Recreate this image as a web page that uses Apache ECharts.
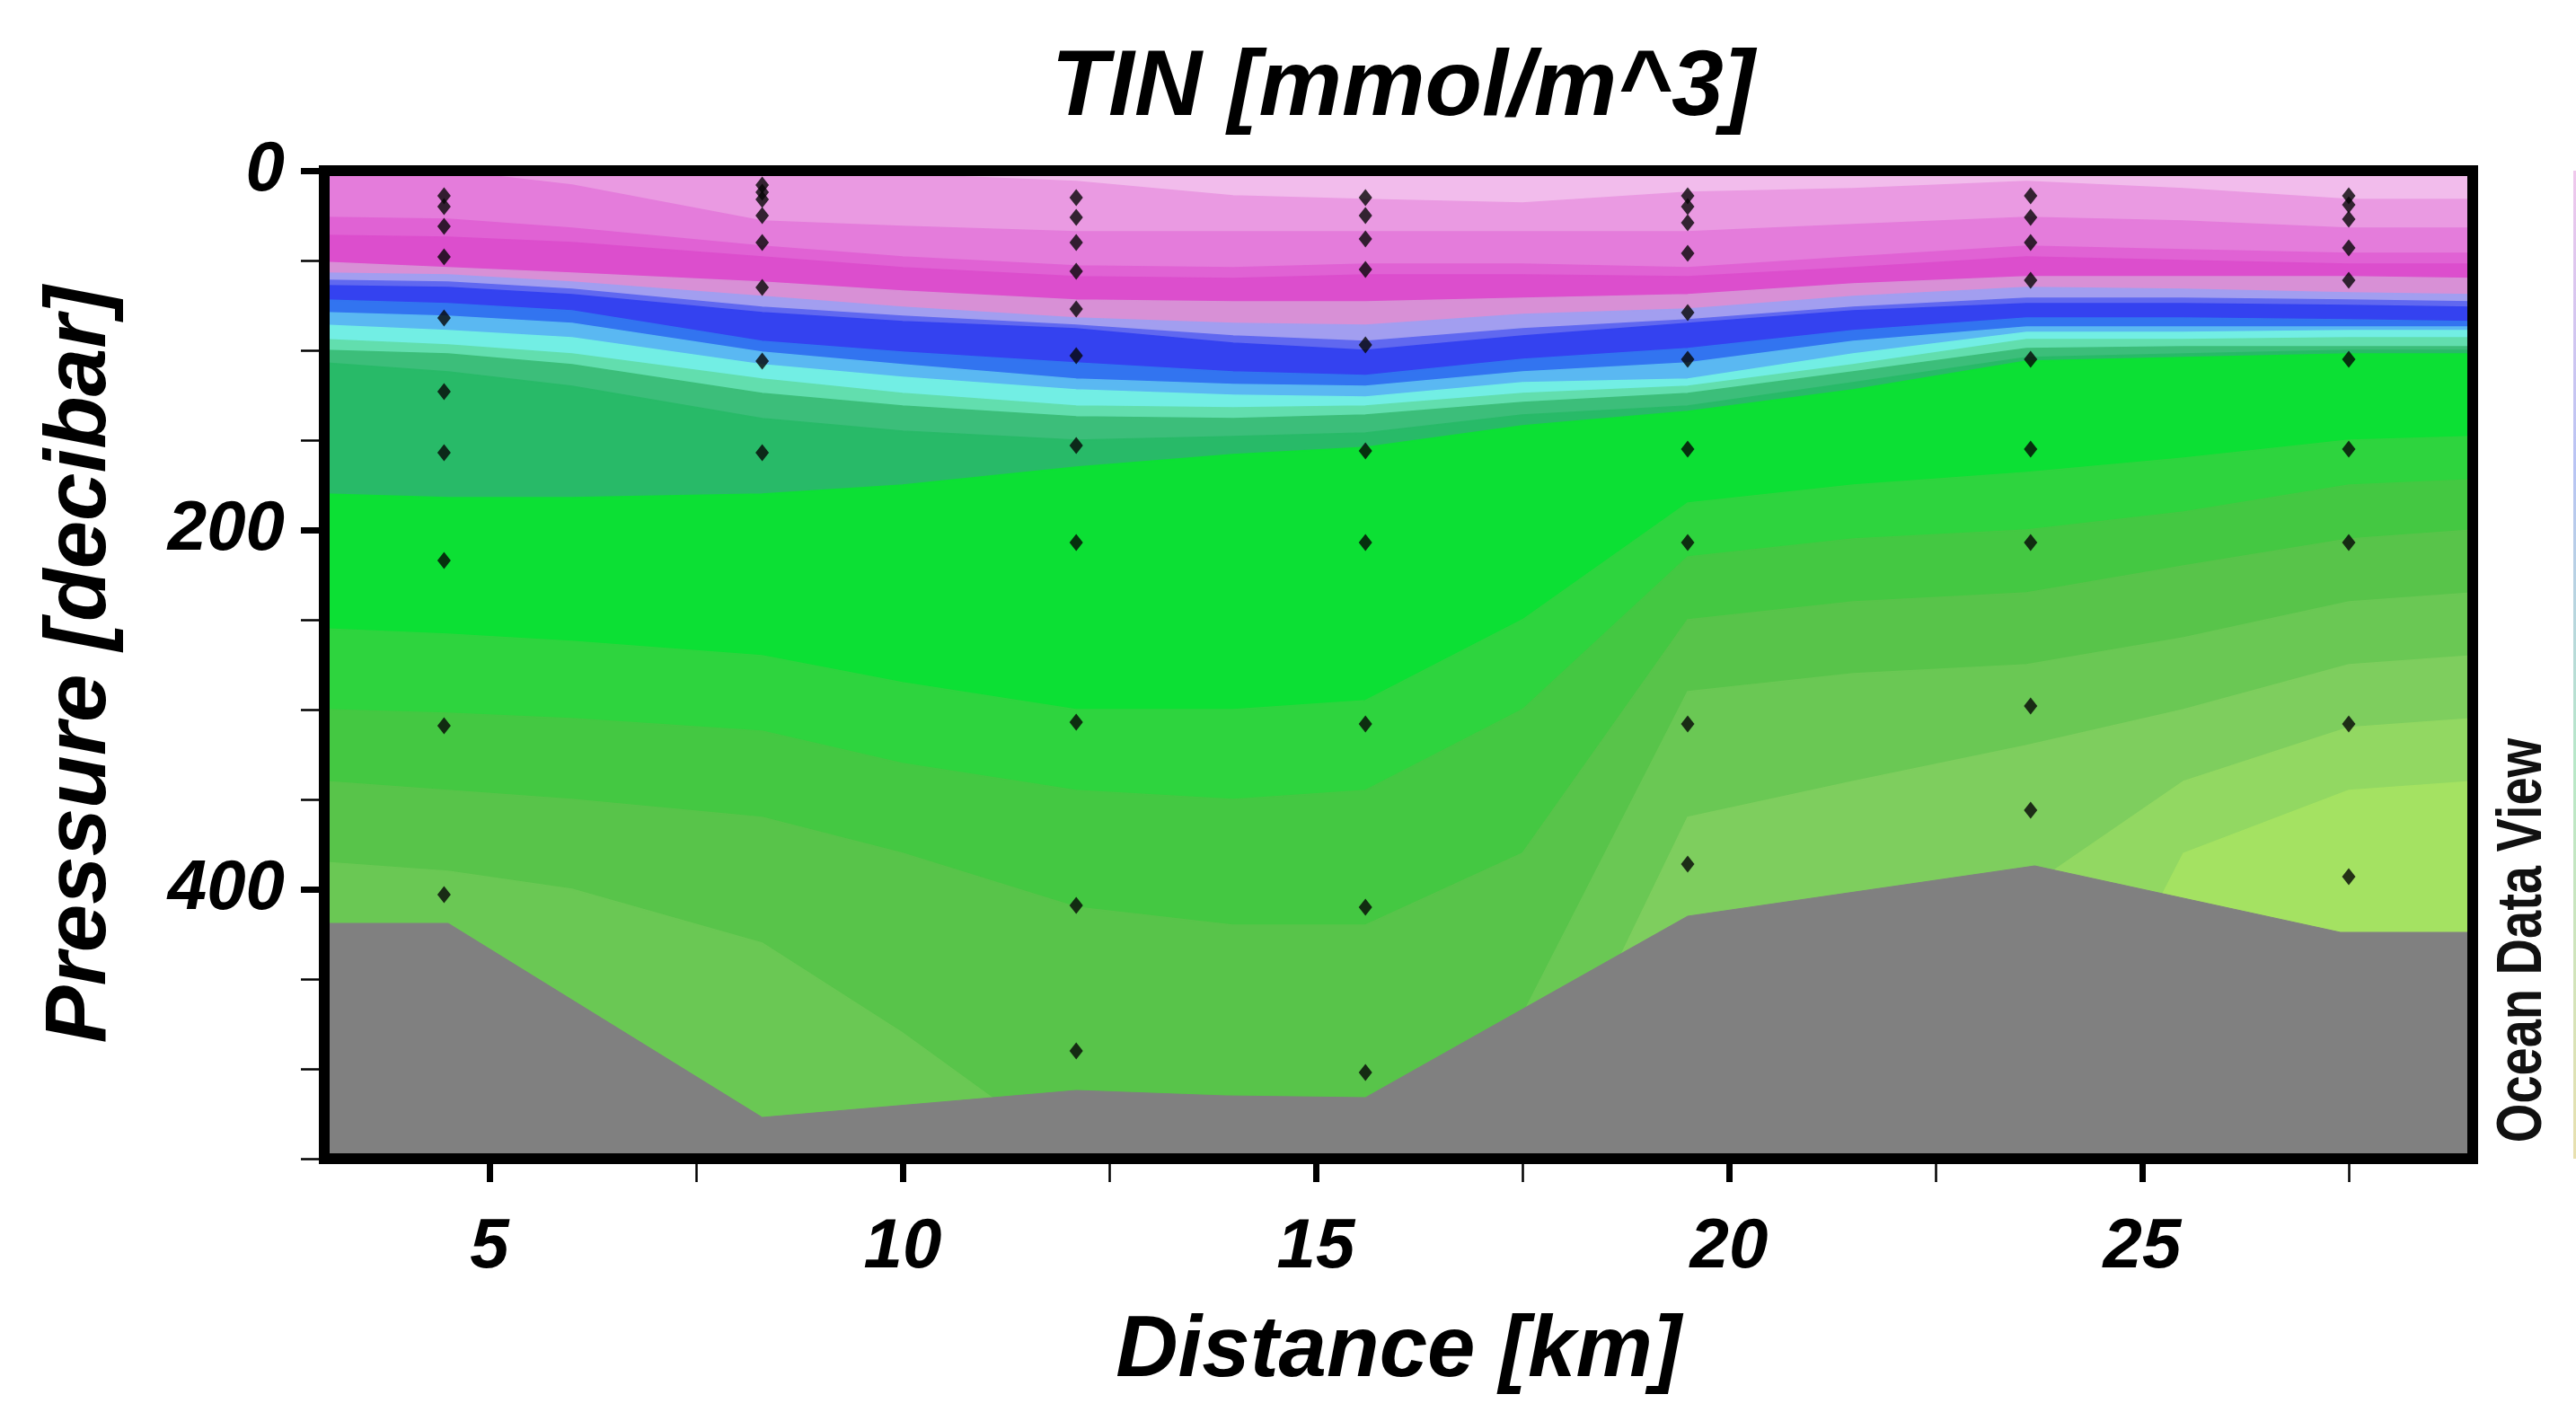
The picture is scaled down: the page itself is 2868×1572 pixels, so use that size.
<!DOCTYPE html>
<html>
<head>
<meta charset="utf-8">
<style>
html, body { margin: 0; padding: 0; background: #fff; }
#chart { width: 2868px; height: 1572px; }
</style>
<script src="https://cdn.jsdelivr.net/npm/echarts@6/dist/echarts.min.js"></script>
</head>
<body>
<div id="chart"></div>
<script>
var myChart = echarts.init(document.getElementById('chart'));

var xNodes = [3, 4.5, 6, 8.3, 10, 12.1, 14, 15.6, 17.5, 19.5, 21.5, 23.6, 25.5, 27.5, 29];

// TIN band edges (mmol/m^3) and one colour per band (ODV-like palette)
var tinLevels = [0, 0.2, 0.4, 0.8, 1.2, 2, 3, 5, 7, 9, 11, 13, 15, 17, 19, 21, 23, 24.5, 25.5, 26.5, 27.5, 28.5, 29.5, 31];
var bandColors = ['#F2BCEC', '#EA9AE2', '#E47CDB', '#E062D4', '#DC4ECD', '#D890D6', '#A29EF0', '#6068F0',
    '#3442F0', '#3274F0', '#5AB8F2', '#72EEE4', '#62DEAE', '#3CBE7A', '#28BA68', '#0CE034',
    '#2ED43E', '#44C842', '#58C44A', '#6AC854', '#7ECE5E', '#92D862', '#A4E262'];

// pressure (dbar) of the isoline tinLevels[k+1] at each xNode
var isoDepth = [
    [0, 0, 0, 0, 2, 6, 14, 16, 18, 12, 10, 6, 10, 16, 16],
    [0, 0, 8, 28, 31, 34, 34, 34, 34, 34, 30, 26, 28, 32, 32],
    [26, 27, 32, 42, 48, 53, 54, 52, 52, 54, 48, 42, 44, 46, 46],
    [36, 37, 40, 48, 54, 59, 60, 58, 58, 59, 54, 48, 50, 52, 52],
    [51, 54, 57, 62, 67, 72, 73, 73, 71, 69, 63, 59, 59, 59, 60],
    [57, 58, 62, 70, 76, 82, 85, 86, 80, 77, 70, 65, 66, 68, 69],
    [61, 62, 66, 76, 81, 86, 92, 95, 88, 83, 76, 71, 71, 72, 73],
    [64, 65, 69, 79, 84, 88, 96, 100, 92, 85, 78, 74, 74, 75, 76],
    [72, 74, 78, 95, 101, 107, 112, 114, 105, 99, 89, 82, 82, 83, 84],
    [79, 81, 85, 101, 108, 116, 119, 120, 112, 107, 95, 87, 87, 87, 87],
    [86, 89, 93, 108, 115, 122, 125, 126, 118, 116, 102, 90, 90, 89, 89],
    [94, 97, 102, 116, 124, 131, 132, 131, 124, 120, 108, 94, 94, 93, 93],
    [100, 102, 108, 124, 131, 137, 138, 136, 129, 124, 112, 99, 98, 98, 98],
    [107, 112, 120, 138, 145, 150, 148, 146, 136, 131, 118, 104, 102, 100, 100],
    [180, 182, 182, 180, 175, 165, 158, 154, 142, 134, 122, 106, 104, 102, 102],
    [255, 258, 262, 270, 285, 300, 300, 295, 250, 185, 175, 168, 160, 150, 148],
    [300, 302, 305, 312, 330, 345, 350, 345, 300, 215, 205, 200, 190, 175, 172],
    [340, 345, 350, 360, 380, 410, 420, 420, 380, 250, 240, 235, 220, 205, 200],
    [385, 390, 400, 430, 480, 550, 550, 550, 470, 290, 280, 275, 260, 240, 235],
    [550, 550, 550, 550, 550, 550, 550, 550, 550, 360, 340, 320, 300, 275, 270],
    [550, 550, 550, 550, 550, 550, 550, 550, 550, 550, 550, 400, 340, 310, 305],
    [550, 550, 550, 550, 550, 550, 550, 550, 550, 550, 550, 550, 380, 345, 340]
];

// sea floor
var bottomX = [3, 4.5, 8.3, 12.1, 13.9, 15.6, 19.5, 23.7, 27.4, 29];
var bottomP = [419, 419, 527, 512, 515, 516, 415, 387, 424, 424];

// stations and sample pressures
var stationX = [4.45, 8.3, 12.1, 15.6, 19.5, 23.65, 27.5];
var stationP = [
    [14, 20, 31, 48, 82, 123, 157, 217, 309, 403],
    [8, 12, 16, 25, 40, 65, 106, 157],
    [15, 26, 40, 56, 77, 103, 153, 207, 307, 409, 490],
    [15, 25, 38, 55, 97, 156, 207, 308, 410, 502],
    [14, 20, 29, 46, 79, 105, 155, 207, 308, 386],
    [14, 26, 40, 61, 105, 155, 207, 298, 356],
    [14, 19, 27, 43, 61, 105, 155, 207, 308, 393]
];

var xMajor = [5, 10, 15, 20, 25];
var xMinor = [7.5, 12.5, 17.5, 22.5, 27.5];
var yMajor = [0, 200, 400];
var yMinor = [50, 100, 150, 250, 300, 350, 450, 500, 550];

var pMax = 550;
var fontFam = '"Liberation Sans", Arial, sans-serif';

var bandData = [];
var pieces = [];
for (var k = 0; k < bandColors.length; k++) {
    bandData.push([k, (tinLevels[k] + tinLevels[k + 1]) / 2]);
    pieces.push({ min: tinLevels[k], max: tinLevels[k + 1], color: bandColors[k] });
}

var bottomData = bottomX.map(function (x, i) { return [x, bottomP[i]]; });

var stationData = [];
stationX.forEach(function (x, s) {
    stationP[s].forEach(function (p) { stationData.push([x, p]); });
});

var labelFont = { fontFamily: fontFam, fontSize: 78, fontWeight: 'bold', fontStyle: 'italic', color: '#000' };
var nameFont = { fontFamily: fontFam, fontSize: 96, fontWeight: 'bold', fontStyle: 'italic', color: '#000' };
function frameLine(show) {
    return { show: show, onZero: false, lineStyle: { color: '#000', width: 12, cap: 'square' } };
}

option = {
    backgroundColor: '#fff',
    animation: false,
    grid: { left: 361, right: 115, top: 190, bottom: 282, outerBoundsMode: 'none' },
    graphic: [
        {
            type: 'text', x: 1562, y: 99, z: 20,
            style: { text: 'TIN [mmol/m^3]', font: 'italic bold 104px ' + fontFam, fill: '#000', textAlign: 'center', textVerticalAlign: 'middle' }
        },
        {
            type: 'text', x: 2810, y: 1047, rotation: Math.PI / 2, scaleX: 0.8, z: 20,
            style: { text: 'Ocean Data View', font: 'bold 70px ' + fontFam, fill: '#111', textAlign: 'center', textVerticalAlign: 'middle' }
        },
        {
            type: 'rect', shape: { x: 2865, y: 190, width: 3, height: 1100 },
            style: { fill: new echarts.graphic.LinearGradient(0, 0, 0, 1, [
                { offset: 0, color: '#F0C8EC' }, { offset: 0.3, color: '#B8C4F4' },
                { offset: 0.6, color: '#B8E8C8' }, { offset: 1, color: '#E8E0B0' }]) }
        }
    ],
    visualMap: {
        type: 'piecewise', show: false, seriesIndex: 0, dimension: 1, pieces: pieces
    },
    xAxis: [
        {
            type: 'value', min: 3, max: 29, position: 'bottom', z: 10,
            axisLine: frameLine(true),
            axisTick: { show: true, customValues: xMajor, length: 26, lineStyle: { color: '#000', width: 7 } },
            axisLabel: Object.assign({ customValues: xMajor, margin: 60 }, labelFont),
            splitLine: { show: false },
            name: 'Distance [km]', nameLocation: 'middle', nameGap: 168, nameTextStyle: nameFont
        },
        {
            type: 'value', min: 3, max: 29, position: 'bottom', z: 10,
            axisLine: frameLine(false),
            axisTick: { show: true, customValues: xMinor, length: 26, lineStyle: { color: '#000', width: 2.5 } },
            axisLabel: { show: false }, splitLine: { show: false }
        },
        {
            type: 'value', min: 3, max: 29, position: 'top', z: 10,
            axisLine: frameLine(true), axisTick: { show: false }, axisLabel: { show: false }, splitLine: { show: false }
        }
    ],
    yAxis: [
        {
            type: 'value', min: 0, max: pMax, inverse: true, position: 'left', z: 10,
            axisLine: frameLine(true),
            axisTick: { show: true, customValues: yMajor, length: 26, lineStyle: { color: '#000', width: 7 } },
            axisLabel: Object.assign({ customValues: yMajor, margin: 44 }, labelFont),
            splitLine: { show: false },
            name: 'Pressure [decibar]', nameLocation: 'middle', nameGap: 222, nameRotate: 90, nameTextStyle: nameFont
        },
        {
            type: 'value', min: 0, max: pMax, inverse: true, position: 'left', z: 10,
            axisLine: frameLine(false),
            axisTick: { show: true, customValues: yMinor, length: 26, lineStyle: { color: '#000', width: 2.5 } },
            axisLabel: { show: false }, splitLine: { show: false }
        },
        {
            type: 'value', min: 0, max: pMax, inverse: true, position: 'right', z: 10,
            axisLine: frameLine(true), axisTick: { show: false }, axisLabel: { show: false }, splitLine: { show: false }
        }
    ],
    series: [
        {
            // filled TIN bands between isolines
            type: 'custom',
            clip: true,
            data: bandData,
            renderItem: function (params, api) {
                var k = params.dataIndex;
                var pts = [];
                var i;
                for (i = 0; i < xNodes.length; i++) {
                    pts.push(api.coord([xNodes[i], k === 0 ? 0 : isoDepth[k - 1][i]]));
                }
                for (i = xNodes.length - 1; i >= 0; i--) {
                    pts.push(api.coord([xNodes[i], k === isoDepth.length ? pMax : isoDepth[k][i]]));
                }
                var c = api.visual('color');
                return { type: 'polygon', shape: { points: pts }, style: { fill: c, stroke: c, lineWidth: 1.5 } };
            },
            z: 1
        },
        {
            // sea floor
            type: 'line',
            data: bottomData,
            symbol: 'none',
            lineStyle: { color: '#808080', width: 1 },
            areaStyle: { color: '#808080', opacity: 1, origin: 'end' },
            z: 3
        },
        {
            type: 'scatter',
            data: stationData,
            symbol: 'diamond',
            symbolSize: [15, 19],
            itemStyle: { color: '#050505' },
            z: 4
        }
    ]
};

myChart.setOption(option);
</script>
</body>
</html>
